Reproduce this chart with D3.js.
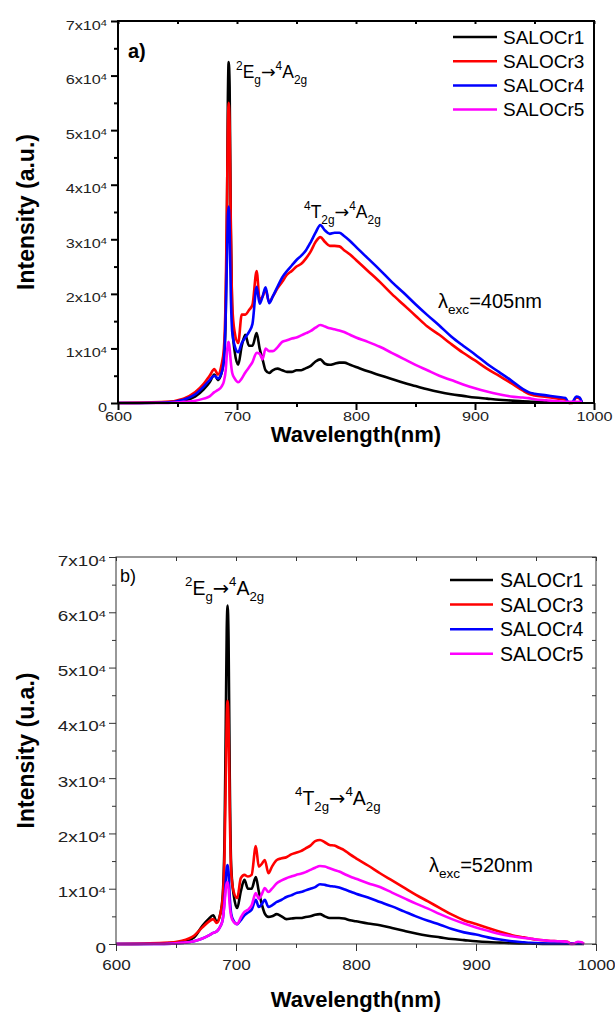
<!DOCTYPE html>
<html>
<head>
<meta charset="utf-8">
<script src="https://cdn.jsdelivr.net/npm/d3@7"></script>
<style>
	body { margin: 0; background: #fff; }
	svg { display: block; font-family: "Liberation Sans", Arial, sans-serif; }
</style>
</head>
<body>
<svg id="chart" width="615" height="1012"></svg>
<script>
////////////////////////////////////////
// emission spectra, two excitation wavelengths
// intensities are stored in units of 10^4 counts
////////////////////////////////////////

var wavelength = [600, 640, 655, 665, 672, 677, 681, 684, 687, 689, 690.5, 691.5, 692.3, 693, 693.8, 694.8, 696, 698,
	701, 704, 707, 710, 713, 716.5, 719, 721.5, 724, 727, 730, 734, 738, 742, 746, 750, 754, 758, 762, 766, 770, 774,
	778, 782, 786, 790, 795, 800, 810, 820, 830, 840, 850, 860, 870, 880, 890, 900, 910, 920, 930, 940, 945, 950,
	960, 970, 976, 979, 982, 985, 988, 990];

var seriesNames  = ["SALOCr1", "SALOCr3", "SALOCr4", "SALOCr5"];
var seriesColors = ["#000000", "#ff0000", "#0000ff", "#ff00ff"];

// a) excitation 405 nm
var exc405Cr1 = [0, 0.01, 0.04, 0.12, 0.25, 0.38, 0.52, 0.42, 0.55, 0.8, 1.6, 3.2, 5.5, 6.25, 5.8, 3.2, 1.5, 0.95,
	0.7, 1.05, 1.25, 1.05, 1.05, 1.28, 1.0, 0.8, 0.6, 0.55, 0.6, 0.63, 0.6, 0.57, 0.57, 0.6, 0.6, 0.64, 0.68, 0.76, 0.8, 0.72,
	0.7, 0.72, 0.74, 0.74, 0.7, 0.66, 0.58, 0.51, 0.44, 0.37, 0.31, 0.25, 0.2, 0.16, 0.13, 0.1, 0.08, 0.06, 0.045, 0.03, 0.025, 0.02,
	0.015, 0.01, 0.01, 0.01, 0.01, 0.01, 0.01, 0.01];
var exc405Cr3 = [0, 0.02, 0.08, 0.2, 0.35, 0.5, 0.62, 0.52, 0.7, 1.0, 2.0, 3.5, 5.0, 5.5, 5.1, 3.2, 1.8, 1.3,
	1.1, 1.62, 1.62, 1.7, 1.8, 2.42, 1.9, 1.95, 2.08, 1.85, 1.95, 2.1, 2.22, 2.35, 2.42, 2.5, 2.55, 2.65, 2.78, 2.95, 3.04, 2.95,
	2.88, 2.88, 2.87, 2.8, 2.72, 2.62, 2.42, 2.22, 2.0, 1.8, 1.6, 1.4, 1.25, 1.08, 0.92, 0.78, 0.63, 0.5, 0.37, 0.23, 0.17, 0.14,
	0.11, 0.08, 0.06, 0.0, 0.0, 0.1, 0.08, 0.0];
var exc405Cr4 = [0, 0.01, 0.06, 0.16, 0.3, 0.42, 0.5, 0.45, 0.55, 0.8, 1.6, 2.6, 3.4, 3.6, 3.2, 2.0, 1.3, 1.05,
	0.93, 1.1, 1.2, 1.3, 1.45, 2.13, 1.82, 1.95, 2.12, 1.83, 1.95, 2.13, 2.3, 2.42, 2.52, 2.62, 2.7, 2.8, 2.95, 3.12, 3.26, 3.16,
	3.1, 3.12, 3.12, 3.06, 2.97, 2.86, 2.65, 2.44, 2.22, 2.02, 1.81, 1.61, 1.42, 1.22, 1.05, 0.89, 0.72, 0.57, 0.42, 0.26, 0.2, 0.17,
	0.14, 0.11, 0.09, 0.0, 0.02, 0.12, 0.1, 0.0];
var exc405Cr5 = [0, 0.0, 0.02, 0.04, 0.08, 0.12, 0.2, 0.24, 0.3, 0.4, 0.6, 0.9, 1.08, 1.12, 1.0, 0.75, 0.55, 0.45,
	0.38, 0.45, 0.56, 0.65, 0.75, 0.92, 0.9, 0.8, 1.0, 0.95, 0.95, 1.02, 1.12, 1.15, 1.18, 1.2, 1.24, 1.28, 1.32, 1.38, 1.43, 1.4,
	1.37, 1.35, 1.33, 1.3, 1.25, 1.2, 1.12, 1.03, 0.92, 0.81, 0.7, 0.6, 0.5, 0.42, 0.34, 0.27, 0.21, 0.16, 0.12, 0.1, 0.09, 0.07,
	0.05, 0.03, 0.02, 0.02, 0.02, 0.02, 0.02, 0.02];

// b) excitation 520 nm
var exc520Cr1 = [0, 0.01, 0.04, 0.12, 0.33, 0.45, 0.52, 0.4, 0.55, 0.9, 2.0, 4.0, 5.7, 6.12, 5.5, 3.0, 1.4, 0.9,
	0.65, 0.95, 1.16, 1.0, 1.0, 1.21, 0.95, 0.72, 0.55, 0.49, 0.5, 0.54, 0.5, 0.45, 0.46, 0.47, 0.47, 0.49, 0.5, 0.53, 0.54, 0.5,
	0.47, 0.47, 0.47, 0.46, 0.43, 0.41, 0.37, 0.34, 0.29, 0.24, 0.19, 0.15, 0.12, 0.09, 0.07, 0.05, 0.035, 0.025, 0.015, 0.01, 0.01, 0.005,
	0, 0, 0, 0, 0, 0, 0, 0];
var exc520Cr3 = [0, 0.02, 0.06, 0.15, 0.3, 0.4, 0.45, 0.38, 0.55, 0.85, 1.7, 3.0, 4.1, 4.4, 4.0, 2.4, 1.3, 0.95,
	0.83, 1.19, 1.25, 1.22, 1.25, 1.77, 1.4, 1.45, 1.52, 1.28, 1.4, 1.52, 1.55, 1.57, 1.62, 1.65, 1.68, 1.73, 1.78, 1.86, 1.88, 1.84,
	1.79, 1.78, 1.74, 1.7, 1.62, 1.55, 1.42, 1.28, 1.15, 1.02, 0.89, 0.77, 0.65, 0.53, 0.43, 0.36, 0.29, 0.22, 0.16, 0.12, 0.1, 0.08,
	0.06, 0.05, 0.04, 0.01, 0.01, 0.03, 0.02, 0.01];
var exc520Cr4 = [0, 0.0, 0.02, 0.05, 0.1, 0.15, 0.2, 0.23, 0.32, 0.45, 0.8, 1.15, 1.38, 1.43, 1.3, 0.85, 0.55, 0.42,
	0.36, 0.43, 0.52, 0.57, 0.62, 0.8, 0.67, 0.72, 0.8, 0.67, 0.7, 0.76, 0.8, 0.85, 0.88, 0.92, 0.94, 0.97, 1.0, 1.03, 1.08, 1.07,
	1.05, 1.04, 1.02, 0.99, 0.95, 0.91, 0.84, 0.76, 0.68, 0.59, 0.5, 0.42, 0.35, 0.27, 0.21, 0.17, 0.12, 0.08, 0.05, 0.03, 0.02, 0.015,
	0.01, 0.01, 0.01, 0.01, 0.01, 0.01, 0.01, 0.01];
var exc520Cr5 = [0, 0.0, 0.02, 0.05, 0.1, 0.15, 0.2, 0.23, 0.32, 0.45, 0.75, 1.0, 1.1, 1.12, 1.0, 0.7, 0.5, 0.4,
	0.36, 0.48, 0.58, 0.62, 0.7, 0.92, 0.82, 0.9, 1.01, 0.94, 1.0, 1.1, 1.15, 1.19, 1.22, 1.25, 1.27, 1.3, 1.34, 1.38, 1.41, 1.4,
	1.37, 1.34, 1.31, 1.27, 1.22, 1.18, 1.1, 1.03, 0.93, 0.83, 0.73, 0.64, 0.54, 0.45, 0.37, 0.3, 0.24, 0.18, 0.14, 0.11, 0.1, 0.08,
	0.06, 0.05, 0.04, 0.0, 0.01, 0.04, 0.03, 0.0];

var xTicks      = [600, 700, 800, 900, 1000];
var xMinorTicks = [650, 750, 850, 950];
var yTicks      = [0, 1, 2, 3, 4, 5, 6, 7];
var yMinorTicks = [0.5, 1.5, 2.5, 3.5, 4.5, 5.5, 6.5];

var svg = d3.select("#chart");

////////////////////////////////////////
// rich text with super/subscripts

function richText(parent, x, y, size, parts, weight) {
	var t = parent.append("text")
		.attr("x", x).attr("y", y)
		.attr("font-size", size)
		.attr("font-weight", weight || "normal")
		.attr("fill", "#000");
	var shift = 0;
	parts.forEach(function(p) {
		var target = 0;
		if (p[1] === "sup") target = -0.45 * size;
		if (p[1] === "sub") target = 0.32 * size;
		var ts = t.append("tspan")
			.attr("dy", target - shift)
			.attr("font-size", p[1] ? size * 0.68 : size)
			.text(p[0]);
		if (p[0] === "\u2192") ts.attr("font-family", "DejaVu Sans, sans-serif");
		shift = target;
	});
	return t;
}

////////////////////////////////////////
// one panel

function drawPanel(p) {
	var x = d3.scaleLinear().domain([600, 1000]).range([p.left, p.right]);
	var y = d3.scaleLinear().domain([0, 7]).range([p.bottom, p.top]);
	var g = svg.append("g");

	var line = d3.line()
		.x(function(d) { return x(d[0]); })
		.y(function(d) { return y(d[1]); })
		.curve(d3.curveMonotoneX);

	p.series.forEach(function(vals, i) {
		g.append("path")
			.datum(wavelength.map(function(w, j) { return [w, vals[j]]; }))
			.attr("d", line)
			.attr("fill", "none")
			.attr("stroke", seriesColors[i])
			.attr("stroke-width", p.lineWidth)
			.attr("stroke-linejoin", "round");
	});

	// frame
	g.append("rect")
		.attr("x", p.left).attr("y", p.top)
		.attr("width", p.right - p.left).attr("height", p.bottom - p.top)
		.attr("fill", "none")
		.attr("stroke", p.axisColor)
		.attr("stroke-width", p.frameWidth);

	function cleanAxis(sel, keepText) {
		sel.select(".domain").remove();
		sel.selectAll("line").attr("stroke", p.axisColor).attr("stroke-width", p.axisWidth);
		if (!keepText) sel.selectAll("text").remove();
	}

	// bottom axis
	var gx = g.append("g").attr("transform", "translate(0," + p.bottom + ")")
		.call(d3.axisBottom(x).tickValues(xTicks).tickFormat(d3.format("d"))
			.tickSize(p.majorLen).tickSizeOuter(0));
	cleanAxis(gx, true);
	gx.selectAll("text")
		.attr("y", p.xLabelY).attr("dy", null)
		.attr("font-size", p.tickFont)
		.attr("font-family", "Liberation Sans, Arial, sans-serif")
		.attr("fill", "#222")
		.attr("transform", "scale(" + p.xStretch + ",1)");
	var gxm = g.append("g").attr("transform", "translate(0," + p.bottom + ")")
		.call(d3.axisBottom(x).tickValues(xMinorTicks).tickSize(p.minorLen).tickFormat(""));
	cleanAxis(gxm);

	// left axis
	var gy = g.append("g").attr("transform", "translate(" + p.left + ",0)")
		.call(d3.axisLeft(y).tickValues(yTicks).tickSize(p.majorLen).tickSizeOuter(0));
	cleanAxis(gy, true);
	gy.selectAll(".tick text").each(function(d) {
		var t = d3.select(this);
		t.text(null)
			.attr("x", -p.yLabelGap / p.stretch)
			.attr("y", 8).attr("dy", null)
			.attr("font-size", p.tickFont)
			.attr("font-family", "Liberation Sans, Arial, sans-serif")
			.attr("fill", "#222")
			.attr("transform", "scale(" + p.stretch + ",1)");
		if (d === 0) {
			t.text("0");
		} else {
			t.append("tspan").text(d + "x10");
			t.append("tspan").attr("dy", -4).attr("font-size", p.tickFont * 0.68).text("4");
		}
	});
	var gym = g.append("g").attr("transform", "translate(" + p.left + ",0)")
		.call(d3.axisLeft(y).tickValues(yMinorTicks).tickSize(p.minorLen).tickFormat(""));
	cleanAxis(gym);

	// mirrored ticks, inward
	var gt = g.append("g").attr("transform", "translate(0," + p.top + ")")
		.call(d3.axisTop(x).tickValues(xTicks.concat(xMinorTicks)).tickSize(-p.mirrorLen).tickFormat(""));
	cleanAxis(gt);
	if (p.rightTicks) {
		var gr = g.append("g").attr("transform", "translate(" + p.right + ",0)")
			.call(d3.axisRight(y).tickValues(yTicks.concat(yMinorTicks)).tickSize(-p.mirrorLen).tickFormat(""));
		cleanAxis(gr);
	}

	// axis titles
	g.append("text")
		.attr("transform", "translate(" + p.yTitleX + "," + ((p.top + p.bottom) / 2) + ") rotate(-90)")
		.attr("text-anchor", "middle")
		.attr("font-size", 23).attr("font-weight", "bold")
		.text(p.yTitle);
	g.append("text")
		.attr("x", (p.left + p.right) / 2).attr("y", p.xTitleY)
		.attr("text-anchor", "middle")
		.attr("font-size", 22).attr("font-weight", "bold")
		.text("Wavelength(nm)");

	// legend
	seriesNames.forEach(function(name, i) {
		var ly = p.legend.y + i * p.legend.dy;
		g.append("line")
			.attr("x1", p.legend.x1).attr("x2", p.legend.x2)
			.attr("y1", ly).attr("y2", ly)
			.attr("stroke", seriesColors[i]).attr("stroke-width", 2.5);
		g.append("text")
			.attr("x", p.legend.tx).attr("y", ly).attr("dy", "0.36em")
			.attr("font-size", p.legend.size)
			.text(name);
	});

	// annotations
	richText(g, p.panelLabel.x, p.panelLabel.y, p.panelLabel.size, [[p.panelLabel.text]], p.panelLabel.weight);
	richText(g, p.eLabel[0], p.eLabel[1], p.eLabel[2],
		[["2", "sup"], ["E"], ["g", "sub"], ["\u2192"], ["4", "sup"], ["A"], ["2g", "sub"]]);
	richText(g, p.tLabel[0], p.tLabel[1], p.tLabel[2],
		[["4", "sup"], ["T"], ["2g", "sub"], ["\u2192"], ["4", "sup"], ["A"], ["2g", "sub"]]);
	richText(g, p.excLabel[0], p.excLabel[1], p.excLabel[2],
		[["\u03bb"], ["exc", "sub"], ["=" + p.excText]]);
}

drawPanel({
	left: 118, right: 594, top: 21, bottom: 403,
	series: [exc405Cr1, exc405Cr3, exc405Cr4, exc405Cr5],
	lineWidth: 2.6, axisColor: "#000", frameWidth: 2, axisWidth: 2,
	majorLen: 7, minorLen: 4, mirrorLen: 3, rightTicks: false,
	tickFont: 12.5, stretch: 1.3, xStretch: 1.3, xLabelY: 18, yLabelGap: 11,
	yTitle: "Intensity (a.u.)", yTitleX: 34, xTitleY: 442,
	legend: {x1: 453, x2: 497, tx: 503, y: 37, dy: 24.2, size: 19},
	panelLabel: {x: 128, y: 58, size: 20, text: "a)", weight: "bold"},
	eLabel: [236, 78, 17.5], tLabel: [304, 218, 17.5],
	excLabel: [438, 308, 20], excText: "405nm"
});

drawPanel({
	left: 116, right: 596, top: 557, bottom: 944,
	series: [exc520Cr1, exc520Cr3, exc520Cr4, exc520Cr5],
	lineWidth: 2.6, axisColor: "#333", frameWidth: 1, axisWidth: 1,
	majorLen: 7, minorLen: 4, mirrorLen: 4, rightTicks: true,
	tickFont: 14, stretch: 1.35, xStretch: 1.22, xLabelY: 26, yLabelGap: 10,
	yTitle: "Intensity (u.a.)", yTitleX: 34, xTitleY: 1007,
	legend: {x1: 450, x2: 493, tx: 500, y: 580, dy: 24.6, size: 19.5},
	panelLabel: {x: 120, y: 582, size: 18, text: "b)", weight: "normal"},
	eLabel: [185, 595, 19.5], tLabel: [295, 805, 19.5],
	excLabel: [429, 872, 20], excText: "520nm"
});
</script>
</body>
</html>
